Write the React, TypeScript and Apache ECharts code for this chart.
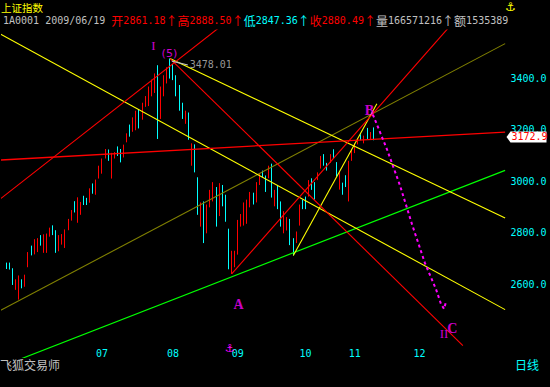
import React, { useEffect, useRef } from 'react';
import * as echarts from 'echarts';

const MONO = '"DejaVu Sans Mono", "Liberation Mono", monospace';
const CJK = '"Noto Sans CJK SC", "DejaVu Sans", sans-serif';
const SERIF = '"Liberation Serif", "DejaVu Serif", serif';
const SYM = '"DejaVu Sans", sans-serif';

const RED = '#ff0000';
const CYAN = '#00ffff';
const YELLOW = '#ffff00';
const GREY = '#c0c0c0';
const MAGENTA = '#ff00ff';
const GREEN = '#00ff00';
const OLIVE = '#808000';

// ---- axes ----
const SLOT_COUNT = 163;
const FIRST_SLOT = 1;
const MONTH_SLOTS = [30, 53, 74, 96, 112, 133];
const MONTH_LABELS = ['07', '08', '09', '10', '11', '12'];
const Y_MIN = 2200;
const Y_MAX = 3589;
const Y_STEP = 200;
const Y_LABEL_MIN = 2600;
const Y_LABEL_MAX = 3400;

// ---- header ----
const INDEX_NAME = '上证指数';
const CODE = '1A0001';
const DATE = '2009/06/19';
const OPEN_TXT = '2861.18';
const HIGH_TXT = '2888.50';
const LOW_TXT = '2847.36';
const CLOSE_TXT = '2880.49';
const VOL_TXT = '166571216';
const AMT_TXT = '1535389';
const BRAND = '飞狐交易师';
const PERIOD = '日线';

// ---- daily candles: [open, close, low, high] ----
const CANDLES: number[][] = [
  [2680, 2663, 2659, 2684],
  [2678, 2660, 2657, 2684],
  [2655, 2602, 2597, 2662],
  [2583, 2615, 2578, 2619],
  [2560, 2625, 2540, 2634],
  [2615, 2588, 2584, 2619],
  [2595, 2632, 2590, 2637],
  [2670, 2720, 2666, 2725],
  [2745, 2716, 2712, 2750],
  [2720, 2770, 2716, 2775],
  [2730, 2775, 2725, 2779],
  [2786, 2755, 2750, 2791],
  [2728, 2789, 2722, 2794],
  [2745, 2794, 2722, 2797],
  [2790, 2816, 2785, 2820],
  [2824, 2795, 2791, 2829],
  [2805, 2730, 2722, 2810],
  [2733, 2786, 2728, 2791],
  [2758, 2790, 2754, 2795],
  [2760, 2808, 2741, 2813],
  [2814, 2850, 2810, 2854],
  [2861.18, 2880.49, 2847.36, 2888.5],
  [2918, 2884, 2879, 2923],
  [2850, 2930, 2839, 2938],
  [2880, 2915, 2870, 2920],
  [2940, 2912, 2908, 2944],
  [2932, 2912, 2908, 2936],
  [2920, 2970, 2917, 2973],
  [2988, 2956, 2952, 2992],
  [2952, 3002, 2948, 3007],
  [3014, 3058, 3011, 3061],
  [3034, 3085, 3030, 3089],
  [3092, 3122, 3089, 3126],
  [3120, 3084, 3080, 3124],
  [3020, 3105, 3011, 3111],
  [3092, 3110, 3089, 3114],
  [3133, 3102, 3099, 3136],
  [3122, 3078, 3074, 3126],
  [3097, 3140, 3093, 3143],
  [3155, 3184, 3152, 3187],
  [3216, 3180, 3174, 3221],
  [3198, 3245, 3193, 3249],
  [3205, 3268, 3199, 3275],
  [3275, 3215, 3206, 3281],
  [3245, 3300, 3240, 3306],
  [3295, 3328, 3290, 3332],
  [3300, 3365, 3293, 3369],
  [3335, 3392, 3331, 3396],
  [3350, 3415, 3344, 3420],
  [3445, 3180, 3165, 3452],
  [3250, 3365, 3243, 3369],
  [3335, 3410, 3331, 3413],
  [3385, 3440, 3381, 3444],
  [3470, 3410, 3400, 3478.01],
  [3450, 3398, 3394, 3457],
  [3410, 3335, 3331, 3413],
  [3372, 3280, 3275, 3375],
  [3300, 3248, 3243, 3306],
  [3228, 3270, 3224, 3275],
  [3265, 3168, 3162, 3268],
  [3065, 3145, 3061, 3148],
  [3140, 3040, 3035, 3144],
  [3010, 2882, 2870, 3016],
  [2830, 2912, 2824, 2918],
  [2915, 2765, 2760, 2922],
  [2802, 2905, 2798, 2910],
  [2903, 2962, 2899, 2967],
  [2926, 2992, 2922, 2997],
  [2972, 2830, 2824, 2978],
  [2870, 2988, 2865, 2993],
  [2982, 2908, 2903, 2986],
  [2944, 2848, 2843, 2948],
  [2812, 2665, 2658, 2816],
  [2645, 2725, 2639.76, 2730],
  [2672, 2726, 2666, 2730],
  [2720, 2845, 2715, 2850],
  [2828, 2868, 2824, 2873],
  [2832, 2912, 2828, 2918],
  [2840, 2924, 2835, 2929],
  [2903, 2954, 2899, 2959],
  [2952, 2914, 2910, 2956],
  [2922, 2992, 2918, 2997],
  [2990, 3026, 2986, 3031],
  [3040, 3020, 3016, 3042],
  [3018, 2963, 2959, 3023],
  [3016, 3057, 3012, 3061],
  [3065, 2942, 2937, 3069],
  [2908, 2962, 2903, 2967],
  [2982, 2896, 2892, 2986],
  [2918, 2828, 2824, 2922],
  [2802, 2880, 2798, 2884],
  [2813, 2856, 2809, 2861],
  [2850, 2756, 2752, 2854],
  [2775, 2720, 2712, 2779],
  [2764, 2800, 2760, 2805],
  [2832, 2905, 2828, 2910],
  [2925, 2896, 2892, 2929],
  [2937, 2896, 2892, 2941],
  [2945, 3000, 2941, 3005],
  [3008, 2972, 2967, 3012],
  [2993, 2933, 2929, 2997],
  [3008, 3030, 3005, 3035],
  [3054, 3095, 3050, 3099],
  [3102, 3065, 3061, 3106],
  [3068, 3046, 3042, 3072],
  [3076, 3102, 3072, 3106],
  [3120, 3090, 3087, 3125],
  [3070, 3022, 3018, 3075],
  [2975, 3030, 2968, 3035],
  [2990, 2952, 2948, 2995],
  [3020, 2982, 2978, 3024],
  [2930, 3075, 2922, 3080],
  [3085, 3120, 3080, 3125],
  [3112, 3144, 3110, 3148],
  [3146, 3165, 3144, 3168],
  [3178, 3165, 3160, 3183],
  [3150, 3172, 3148, 3178],
  [3205, 3175, 3165, 3208],
  [3170, 3190, 3165, 3192],
  [3205, 3172.9, 3160, 3210],
];
const LAST_CLOSE = 3172.9;

// ---- drawn trend lines: [slot, price] pairs ----
const LINE_Y1 = [[-1.15, 3574], [162.7, 2501]];
const LINE_Y2 = [[54, 3478.01], [162.7, 2858]];
const LINE_Y3 = [[94, 2712], [121.1, 3302]];
const LINE_R1 = [[74, 2639.76], [144.5, 3600]];
const LINE_R2 = [[-1.15, 2931], [70.1, 3600]];
const LINE_R3 = [[-1.15, 3083], [162.7, 3192]];
const LINE_R4 = [[54, 3478.01], [149, 2361]];
const LINE_OLIVE = [[-1.15, 2497], [162.7, 3536]];
const LINE_GREEN = [[-1.15, 2278], [162.7, 3043]];
const PEAK_POINTER = [[54.6, 3468], [59.8, 3453]];
const WAVE_C_PATH = [
  [119.8, 3260], [124.4, 3124], [128.6, 2984], [132.5, 2833],
  [136.7, 2682], [140.3, 2580], [141.9, 2523], [142.9, 2504], [143.6, 2535],
];

// ---- wave labels ----
const WAVE_LABELS = [
  { text: 'I', x: 48.6, y: 3528, kind: 'serif' },
  { text: '(5)', x: 53.8, y: 3497, kind: 'small' },
  { text: 'A', x: 76.2, y: 2521, kind: 'bold' },
  { text: 'B', x: 118.7, y: 3277, kind: 'bold' },
  { text: 'II', x: 142.9, y: 2410, kind: 'serif' },
  { text: 'C', x: 145.6, y: 2429, kind: 'bold' },
];
const PEAK_LABEL = { text: '3478.01', x: 60.2, y: 3453 };

function lineSeries(data: number[][], color: string, extra: any = {}) {
  return {
    type: 'line',
    xAxisIndex: 1,
    yAxisIndex: 0,
    data,
    symbol: 'none',
    silent: true,
    clip: true,
    z: 3,
    lineStyle: { color, width: 1.1, ...extra },
  };
}

export default function App() {
  const ref = useRef<HTMLDivElement>(null);

  useEffect(() => {
    document.body.style.margin = '0';
    document.body.style.background = '#000';
    if (!ref.current) return;
    const chart = echarts.init(ref.current, undefined, { renderer: 'svg' });

    const cats: string[] = [];
    for (let i = 0; i < SLOT_COUNT; i++) {
      const k = MONTH_SLOTS.indexOf(i);
      cats.push(k >= 0 ? MONTH_LABELS[k] : '');
    }
    const candleData: any[] = [];
    for (let i = 0; i < FIRST_SLOT; i++) candleData.push(['-', '-', '-', '-']);
    CANDLES.forEach((c) => candleData.push(c));

    const labelStyles: Record<string, any> = {
      serif: { fontFamily: SERIF, fontSize: 13, color: MAGENTA },
      bold: { fontFamily: SERIF, fontSize: 14, fontWeight: 'bold', color: MAGENTA },
      small: { fontFamily: SYM, fontSize: 11, color: MAGENTA },
    };

    const option: any = {
      animation: false,
      backgroundColor: '#000',
      grid: { left: 2, right: 45.5, top: 30, bottom: -10.5, containLabel: false },
      xAxis: [
        {
          type: 'category',
          data: cats,
          boundaryGap: true,
          position: 'bottom',
          offset: -38.5,
          axisLine: { show: false },
          axisTick: { show: false },
          splitLine: { show: false },
          axisLabel: {
            interval: (idx: number) => MONTH_SLOTS.indexOf(idx) >= 0,
            color: CYAN,
            fontFamily: MONO,
            fontSize: 10,
            margin: 0,
            align: 'left',
            backgroundColor: '#000',
          },
        },
        { type: 'value', min: -0.5, max: SLOT_COUNT - 0.5, show: false },
      ],
      yAxis: {
        type: 'value',
        min: Y_MIN,
        max: Y_MAX,
        interval: Y_STEP,
        position: 'right',
        axisLine: { show: false },
        axisTick: { show: false },
        splitLine: { show: false },
        axisLabel: {
          color: CYAN,
          fontFamily: MONO,
          fontSize: 10,
          margin: 6,
          formatter: (v: number) =>
            v >= Y_LABEL_MIN && v <= Y_LABEL_MAX && Math.abs(v % Y_STEP) < 1e-6 ? v.toFixed(1) : '',
        },
      },
      series: [
        {
          type: 'candlestick',
          xAxisIndex: 0,
          yAxisIndex: 0,
          data: candleData,
          barWidth: 1,
          silent: true,
          z: 2,
          itemStyle: { color: RED, color0: CYAN, borderColor: RED, borderColor0: CYAN, borderWidth: 1 },
        },
        lineSeries(LINE_OLIVE, OLIVE),
        lineSeries(LINE_GREEN, GREEN, { width: 1.2 }),
        lineSeries(LINE_Y1, YELLOW),
        lineSeries(LINE_Y2, YELLOW),
        lineSeries(LINE_Y3, YELLOW),
        lineSeries(LINE_R1, RED),
        lineSeries(LINE_R2, RED),
        lineSeries(LINE_R3, RED, { width: 1.3 }),
        lineSeries(LINE_R4, RED),
        lineSeries(PEAK_POINTER, GREY),
        lineSeries(WAVE_C_PATH, MAGENTA, { width: 2, type: [3, 3] }),
        {
          type: 'scatter',
          xAxisIndex: 1,
          yAxisIndex: 0,
          symbolSize: 1,
          silent: true,
          z: 6,
          itemStyle: { color: 'rgba(0,0,0,0)' },
          label: { show: true, position: 'inside' },
          data: [
            ...WAVE_LABELS.map((m) => ({
              value: [m.x, m.y],
              label: { show: true, position: 'inside', formatter: m.text, ...labelStyles[m.kind] },
            })),
            {
              value: [PEAK_LABEL.x, PEAK_LABEL.y],
              label: {
                show: true,
                position: 'right',
                distance: 0,
                formatter: PEAK_LABEL.text,
                color: GREY,
                fontFamily: MONO,
                fontSize: 10,
              },
            },
          ],
        },
      ],
    };
    chart.setOption(option);

    const py = chart.convertToPixel({ yAxisIndex: 0 }, LAST_CLOSE) as number;
    const gx = chart.convertToPixel({ xAxisIndex: 1 }, SLOT_COUNT - 0.5) as number;

    const tok = (fill: string, fam: string, size: number, w?: number) => {
      const o: any = { fill, fontFamily: fam, fontSize: size, verticalAlign: 'middle' };
      if (w) { o.width = w; o.align = 'center'; }
      return o;
    };

    const headerRich =
      `{g|${CODE} ${DATE} }` +
      `{rc|开}{r|${OPEN_TXT}}{ra|↑}` +
      `{rc|高}{r|${HIGH_TXT}}{ra|↑}` +
      `{cc|低}{c|${LOW_TXT}}{ca|↑}` +
      `{rc|收}{r|${CLOSE_TXT}}{ra|↑}` +
      `{gc|量}{g|${VOL_TXT}}{ga|↑}` +
      `{gc|额}{g|${AMT_TXT}}`;

    chart.setOption({
      graphic: [
        {
          type: 'text', x: 1, y: 2, z: 100,
          style: { text: INDEX_NAME, fill: YELLOW, fontFamily: CJK, fontSize: 10.5 },
        },
        {
          type: 'text', x: 3, y: 14, z: 100,
          style: {
            text: headerRich,
            fill: GREY,
            fontFamily: MONO,
            fontSize: 10,
            rich: {
              g: tok(GREY, MONO, 10),
              gc: tok(GREY, CJK, 12),
              ga: tok(GREY, CJK, 12, 12),
              r: tok(RED, MONO, 10),
              rc: tok(RED, CJK, 12),
              ra: tok(RED, CJK, 12, 12),
              c: tok(CYAN, MONO, 10),
              cc: tok(CYAN, CJK, 12),
              ca: tok(CYAN, CJK, 12, 12),
            },
          },
        },
        {
          type: 'text', x: 505, y: 1, z: 100,
          style: { text: '⚓', fill: YELLOW, fontFamily: SYM, fontSize: 12, fontWeight: 'bold' },
        },
        {
          type: 'text', x: 225, y: 348, z: 100,
          style: {
            text: '⚓', fill: MAGENTA, fontFamily: SYM, fontSize: 11, fontWeight: 'bold',
            verticalAlign: 'middle',
          },
        },
        {
          type: 'text', x: 0, y: 358, z: 100,
          style: { text: BRAND, fill: GREY, fontFamily: CJK, fontSize: 12, backgroundColor: '#000' },
        },
        {
          type: 'text', x: 515, y: 358, z: 100,
          style: { text: PERIOD, fill: CYAN, fontFamily: CJK, fontSize: 12, backgroundColor: '#000' },
        },
        {
          type: 'polygon', z: 100,
          shape: {
            points: [
              [gx + 2, py],
              [gx + 6, py - 5.5],
              [gx + 42, py - 5.5],
              [gx + 42, py + 5.5],
              [gx + 6, py + 5.5],
            ],
          },
          style: { fill: '#ffffff' },
        },
        {
          type: 'text', x: gx + 7, y: py, z: 101,
          style: {
            text: LAST_CLOSE.toFixed(1),
            fill: RED,
            fontFamily: MONO,
            fontSize: 10,
            verticalAlign: 'middle',
          },
        },
      ],
    });

    return () => chart.dispose();
  }, []);

  return <div ref={ref} style={{ width: 550, height: 387, background: '#000' }} />;
}
